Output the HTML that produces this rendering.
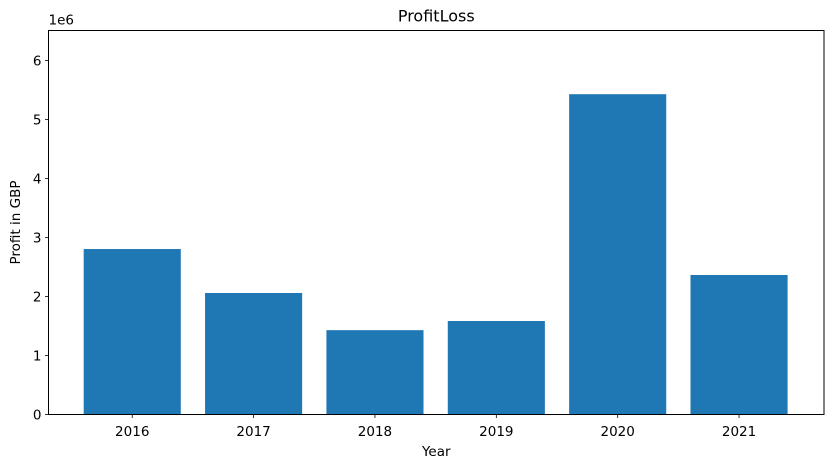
<!DOCTYPE html>
<html><head><meta charset="utf-8"><style>
body{margin:0;background:#fff;}
svg{display:block;font-family:"DejaVu Sans","Liberation Sans",sans-serif;}
</style></head><body>
<svg id="chart" width="833" height="468"></svg>
<script>
const categories=["2016","2017","2018","2019","2020","2021"];
const profits=[2.805,2.06,1.43,1.585,5.43,2.365];
const yTicks=[0,1,2,3,4,5,6];
const L=48.5,R=824,T=30.5,B=414.5,ymax=6.51,xmin=-0.69,xmax=5.7;
const X=v=>L+(v-xmin)/(xmax-xmin)*(R-L);
const Y=v=>B-v/ymax*(B-T);
const svg=document.getElementById('chart');
const NS='http://www.w3.org/2000/svg';
function mk(t,a,txt){const e=document.createElementNS(NS,t);for(const k in a)e.setAttribute(k,a[k]);if(txt!==undefined)e.textContent=txt;svg.appendChild(e);return e;}
categories.forEach((c,i)=>{
 const r=mk('rect',{x:X(i-0.4),y:Y(profits[i]),width:X(i+0.4)-X(i-0.4),height:B-Y(profits[i]),fill:'#1f77b4'});
 
 
 const tk=mk('line',{x1:X(i),x2:X(i),y1:B,y2:B+3.5,stroke:'#000','stroke-width':0.8});
 
 
 const t=mk('text',{x:X(i),y:B+21.5,'text-anchor':'middle','font-size':13.5},c);
 
 
});
yTicks.forEach(v=>{
 const tk=mk('line',{x1:L-3.5,x2:L,y1:Y(v),y2:Y(v),stroke:'#000','stroke-width':0.8});
 
 
 const t=mk('text',{x:L-7,y:Y(v)+5,'text-anchor':'end','font-size':13.5},String(v));
 
 
});
const f=mk('rect',{x:L,y:T,width:R-L,height:B-T,fill:'none',stroke:'#000','stroke-width':1});


const m=mk('text',{x:L,y:T-6,'font-size':13.5},'1e6');


const ti=mk('text',{x:(L+R)/2,y:T-9,'text-anchor':'middle','font-size':16},'ProfitLoss');


const xt=mk('text',{x:(L+R)/2,y:456,'text-anchor':'middle','font-size':13.5},'Year');


const yt=mk('text',{x:20,y:(T+B)/2,'text-anchor':'middle','font-size':13.5,transform:'rotate(-90 20 '+((T+B)/2)+')'},'Profit in GBP');


</script>
</body></html>
